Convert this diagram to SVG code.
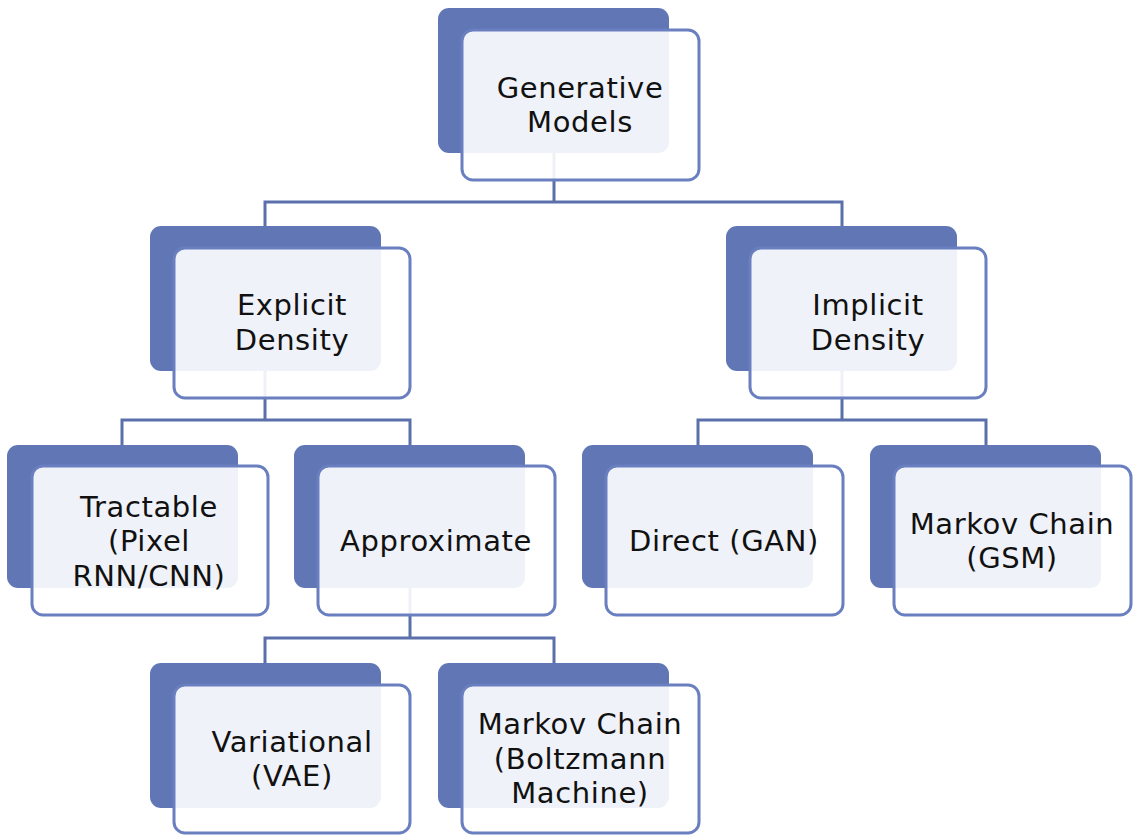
<svg xmlns="http://www.w3.org/2000/svg" width="1138" height="840" viewBox="0 0 1138 840">
<style>
.back{fill:#6177b5;}
.front{fill:#ffffff;fill-opacity:0.9;stroke:#6a7fbf;stroke-width:3;}
.conn{fill:none;stroke:#5b70ab;stroke-width:3;}
text{font-family:"DejaVu Sans",Verdana,sans-serif;font-size:29px;letter-spacing:0.6px;fill:#111111;text-anchor:middle;}
</style>
<rect width="1138" height="840" fill="#ffffff"/>
<g id="connectors">
<path class="conn" d="M554 153 V202 M265 226 V202 H842 V226"/>
<path class="conn" d="M265 371 V420 M122 445 V420 H410 V445"/>
<path class="conn" d="M842 371 V420 M698 445 V420 H986 V445"/>
<path class="conn" d="M410 588 V638 M265 663 V638 H554 V663"/>
</g>
<g id="generative">
<rect class="back" x="438" y="8" width="231" height="145" rx="11"/>
<rect class="front" x="462" y="30" width="237" height="150" rx="11"/>
<text x="580" y="98">Generative</text>
<text x="580" y="132">Models</text>
</g>
<g id="explicit">
<rect class="back" x="150" y="226" width="231" height="145" rx="11"/>
<rect class="front" x="174" y="248" width="236" height="150" rx="11"/>
<text x="292" y="315">Explicit</text>
<text x="292" y="350">Density</text>
</g>
<g id="implicit">
<rect class="back" x="726" y="226" width="231" height="145" rx="11"/>
<rect class="front" x="750" y="248" width="236" height="150" rx="11"/>
<text x="868" y="315">Implicit</text>
<text x="868" y="350">Density</text>
</g>
<g id="tractable">
<rect class="back" x="7" y="445" width="231" height="143" rx="11"/>
<rect class="front" x="32" y="466" width="236" height="149" rx="11"/>
<text x="149" y="517">Tractable</text>
<text x="149" y="551">(Pixel</text>
<text x="149" y="586">RNN/CNN)</text>
</g>
<g id="approximate">
<rect class="back" x="294" y="445" width="231" height="143" rx="11"/>
<rect class="front" x="318" y="466" width="237" height="149" rx="11"/>
<text x="436" y="551">Approximate</text>
</g>
<g id="direct">
<rect class="back" x="582" y="445" width="231" height="143" rx="11"/>
<rect class="front" x="606" y="466" width="237" height="149" rx="11"/>
<text x="724" y="551">Direct (GAN)</text>
</g>
<g id="markov-gsm">
<rect class="back" x="870" y="445" width="231" height="143" rx="11"/>
<rect class="front" x="894" y="466" width="237" height="149" rx="11"/>
<text x="1012" y="534">Markov Chain</text>
<text x="1012" y="568">(GSM)</text>
</g>
<g id="variational">
<rect class="back" x="150" y="663" width="231" height="145" rx="11"/>
<rect class="front" x="174" y="685" width="236" height="148" rx="11"/>
<text x="292" y="752">Variational</text>
<text x="292" y="786">(VAE)</text>
</g>
<g id="markov-boltzmann">
<rect class="back" x="438" y="663" width="231" height="145" rx="11"/>
<rect class="front" x="462" y="685" width="237" height="148" rx="11"/>
<text x="580" y="734">Markov Chain</text>
<text x="580" y="769">(Boltzmann</text>
<text x="580" y="803">Machine)</text>
</g>
</svg>
